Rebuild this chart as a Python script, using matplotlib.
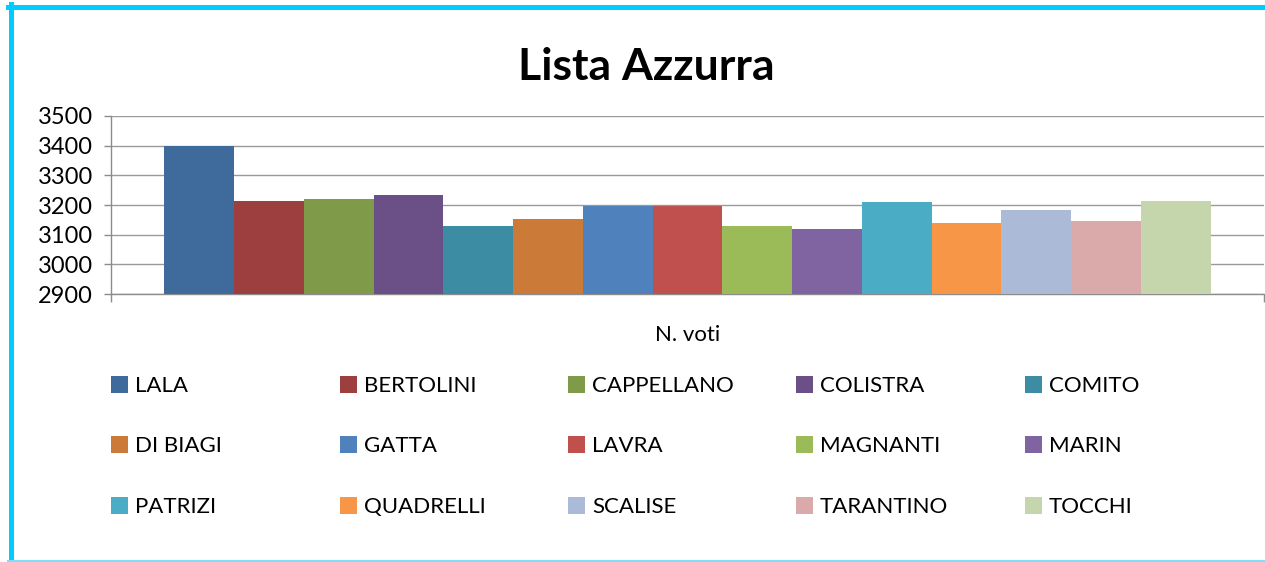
import matplotlib.pyplot as plt
from matplotlib.lines import Line2D
from matplotlib.patches import Rectangle

CANDIDATES = ["LALA", "BERTOLINI", "CAPPELLANO", "COLISTRA", "COMITO",
              "DI BIAGI", "GATTA", "LAVRA", "MAGNANTI", "MARIN",
              "PATRIZI", "QUADRELLI", "SCALISE", "TARANTINO", "TOCCHI"]
VOTES = [3400, 3213, 3220, 3233, 3128,
         3152, 3196, 3197, 3128, 3118,
         3209, 3138, 3182, 3145, 3213]
COLORS = ["#3E6A9C", "#9C3F3E", "#7F9A48", "#6A5087", "#3C8CA3",
          "#CC7A37", "#4F81BD", "#C0504D", "#9BBB59", "#8064A2",
          "#4BACC6", "#F79646", "#AABAD7", "#D9AAA9", "#C6D6AC"]
Y_TICKS = [2900, 3000, 3100, 3200, 3300, 3400, 3500]

TITLE = "Lista Azzurra"
X_LABEL = "N. voti"

W, H = 1265, 562
plt.rcParams["font.family"] = ["Lato", "DejaVu Sans"]

fig = plt.figure(figsize=(W / 100, H / 100), dpi=100)
ax = fig.add_axes([111 / W, 1 - 294 / H, (1264 - 111) / W, (294 - 116) / H])

positions = list(range(len(VOTES)))
bars = ax.bar(positions, [v - Y_TICKS[0] for v in VOTES], bottom=Y_TICKS[0],
              width=1.0, color=COLORS, zorder=3)

gap = 53.5 / 69.8
ax.set_xlim(-0.5 - gap, len(VOTES) - 0.5 + gap)
ax.set_ylim(Y_TICKS[0], Y_TICKS[-1])
ax.set_yticks(Y_TICKS)
ax.set_xticks(ax.get_xlim())
ax.set_xticklabels([])
ax.tick_params(axis="y", labelsize=17, length=5, width=1, color="#8C8C8C", pad=8)
ax.tick_params(axis="x", length=6, width=1, color="#8C8C8C")
ax.grid(axis="y", color="#9A9A9A", linewidth=1, zorder=0)
for side in ("top", "right"):
    ax.spines[side].set_visible(False)
for side in ("left", "bottom"):
    ax.spines[side].set_color("#8C8C8C")
    ax.spines[side].set_linewidth(1)

fig.text(646 / W, 1 - 67 / H, TITLE, ha="center", va="center",
         fontsize=32, fontweight="bold")
fig.text(688 / W, 1 - 335 / H, X_LABEL, ha="center", va="center", fontsize=16)

# legend laid out like Excel: equal columns, 3 rows
col_x = [111, 340, 568, 796, 1025]
row_y = [384, 444, 505]
sq = 17
for i, (name, color) in enumerate(zip(CANDIDATES, COLORS)):
    x0 = col_x[i % 5]
    y0 = row_y[i // 5]
    fig.add_artist(Rectangle((x0 / W, 1 - (y0 + sq / 2) / H), sq / W, sq / H,
                             transform=fig.transFigure, color=color, lw=0))
    fig.text((x0 + 24) / W, 1 - y0 / H, name, ha="left", va="center_baseline",
             fontsize=16)

# cyan frame of the chart area
cyan = "#00CCFF"
fig.add_artist(Line2D([8 / W, 1], [1 - 6.5 / H, 1 - 6.5 / H], color=cyan,
                      lw=3.6, transform=fig.transFigure))
fig.add_artist(Line2D([10.5 / W, 10.5 / W], [0, 1 - 4 / H], color=cyan,
                      lw=3.6, transform=fig.transFigure))
fig.add_artist(Line2D([8 / W, 1], [1.2 / H, 1.2 / H], color="#80DDF5",
                      lw=1.5, transform=fig.transFigure))

fig.savefig("out.png", dpi=100)
